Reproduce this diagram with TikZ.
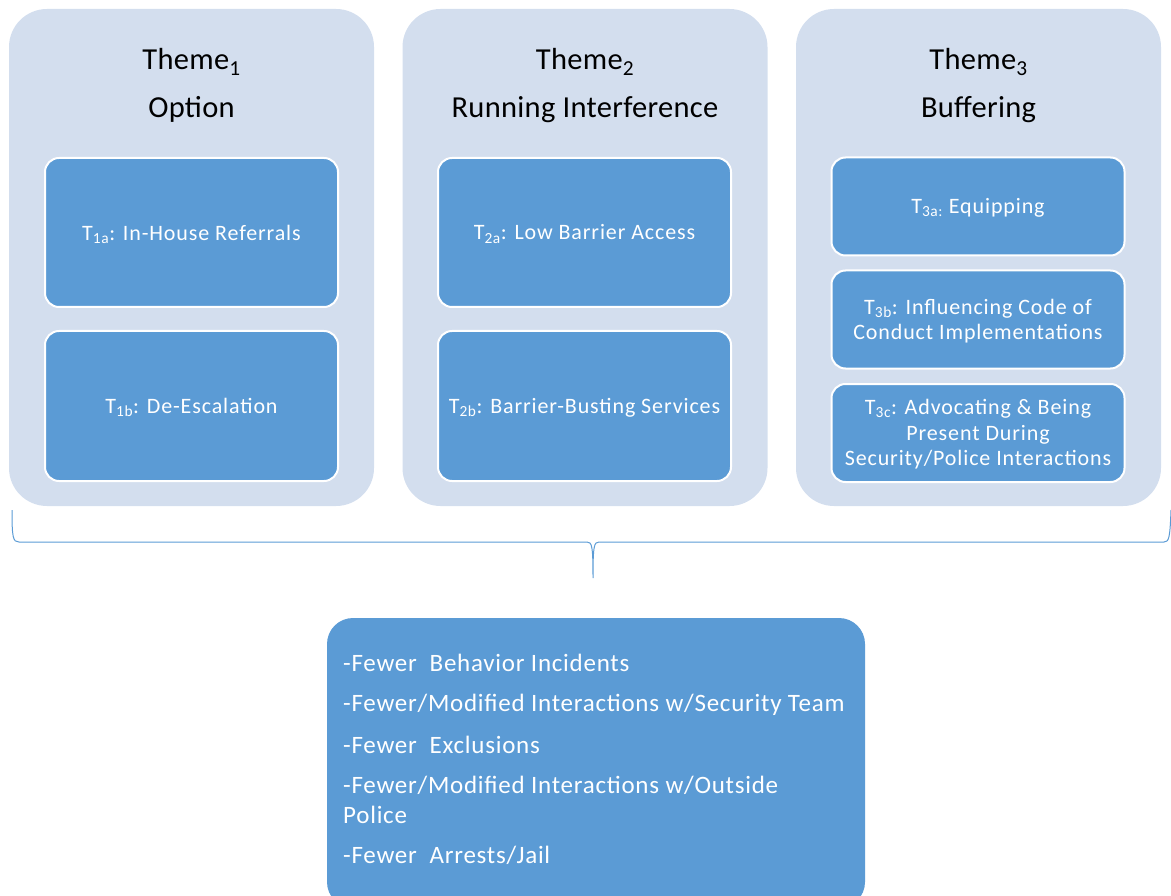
\documentclass[tikz,border=0pt]{standalone}
\usepackage{fontspec}
\setmainfont{Carlito}
\newfontfamily\titlefam[LetterSpace=1]{Carlito}
\newfontfamily\innerfam[LetterSpace=4]{Carlito}
\newfontfamily\resfam[LetterSpace=3]{Carlito}
\definecolor{outerfill}{RGB}{211,222,238}
\definecolor{innerfill}{RGB}{91,155,213}
\tikzset{
  outerbox/.style={fill=outerfill, draw=none, rounded corners=38pt, minimum width=365pt, minimum height=497pt, inner sep=0pt},
  innerbox/.style={fill=innerfill, draw=white, line width=2pt, rounded corners=14pt, minimum width=293pt, inner sep=0pt},
  innertext/.style={text=white, align=center, font=\innerfam\fontsize{22}{25.5}\selectfont},
  titletext/.style={text=black, font=\titlefam\fontsize{30.5}{34}\selectfont},
  resultbox/.style={fill=innerfill, draw=none, rounded corners=26pt, inner sep=0pt},
  resulttext/.style={text=white, anchor=base west, inner sep=0pt, font=\resfam\fontsize{25}{30}\selectfont},
  bracestyle/.style={draw=innerfill, line width=1pt}
}
\begin{document}
\begin{tikzpicture}[x=1pt,y=-1pt]
\useasboundingbox (0,0) rectangle (1171,896);
% outer theme boxes
\node[outerbox] (th1) at (191.5,257.5) {};
\node[outerbox] (th2) at (585,257.5) {};
\node[outerbox] (th3) at (978.5,257.5) {};
% titles
\node[titletext, anchor=base] (h1a) at (191.5,70) {Theme\textsubscript{1}};
\node[titletext, anchor=base] (h1b) at (191.5,118) {Option};
\node[titletext, anchor=base] (h2a) at (585,70) {Theme\textsubscript{2}};
\node[titletext, anchor=base] (h2b) at (585,118) {Running Interference};
\node[titletext, anchor=base] (h3a) at (978.5,70) {Theme\textsubscript{3}};
\node[titletext, anchor=base] (h3b) at (978.5,118) {Buffering};
% inner boxes
\node[innerbox, minimum height=149pt] (b1a) at (191.5,232.5) {};
\node[innerbox, minimum height=150pt] (b1b) at (191.5,406) {};
\node[innerbox, minimum height=149pt] (b2a) at (584.5,232.5) {};
\node[innerbox, minimum height=150pt] (b2b) at (584.5,406) {};
\node[innerbox, minimum height=98pt] (b3a) at (978,206.5) {};
\node[innerbox, minimum height=98pt] (b3b) at (978,319.5) {};
\node[innerbox, minimum height=98pt] (b3c) at (978,433) {};
\node[innertext] at ([yshift=-1.5pt]b1a) {T\textsubscript{1a}: In-House Referrals};
\node[innertext] at ([yshift=-1.5pt]b1b) {T\textsubscript{1b}: De-Escalation};
\node[innertext] at ([yshift=-1.5pt]b2a) {T\textsubscript{2a}: Low Barrier Access};
\node[innertext] at ([yshift=-1.5pt]b2b) {T\textsubscript{2b}: Barrier-Busting Services};
\node[innertext] at ([yshift=-1.5pt]b3a) {T\textsubscript{3a:} Equipping};
\node[innertext] at ([yshift=-1.5pt]b3b) {T\textsubscript{3b}: Influencing Code of\\Conduct Implementations};
\node[innertext] at ([yshift=-1.5pt]b3c) {T\textsubscript{3c}: Advocating \& Being\\Present During\\Security/Police Interactions};
% brace
\coordinate (bl) at (12,510);
\coordinate (br) at (1171,510);
\coordinate (bm) at (593,578);
\draw[bracestyle] (bl) .. controls (12,538) and (13,542) .. (19,542) -- (587,542)
  .. controls (592,542) and (593,546) .. (bm)
  .. controls (593,546) and (594,542) .. (599,542) -- (1164,542)
  .. controls (1169,542) and (1170,538) .. (br);
% result box
\node[resultbox, minimum width=538pt, minimum height=290pt] (res) at (596,763) {};
\node[resulttext] (r1) at (343,671) {-Fewer\ \ Behavior Incidents};
\node[resulttext] (r2) at (343,711) {-Fewer/Modified Interactions w/Security Team};
\node[resulttext] (r3) at (343,753) {-Fewer\ \ Exclusions};
\node[resulttext] (r4) at (343,793) {-Fewer/Modified Interactions w/Outside};
\node[resulttext] (r5) at (343,823) {Police};
\node[resulttext] (r6) at (343,863) {-Fewer\ \ Arrests/Jail};
\end{tikzpicture}
\end{document}
